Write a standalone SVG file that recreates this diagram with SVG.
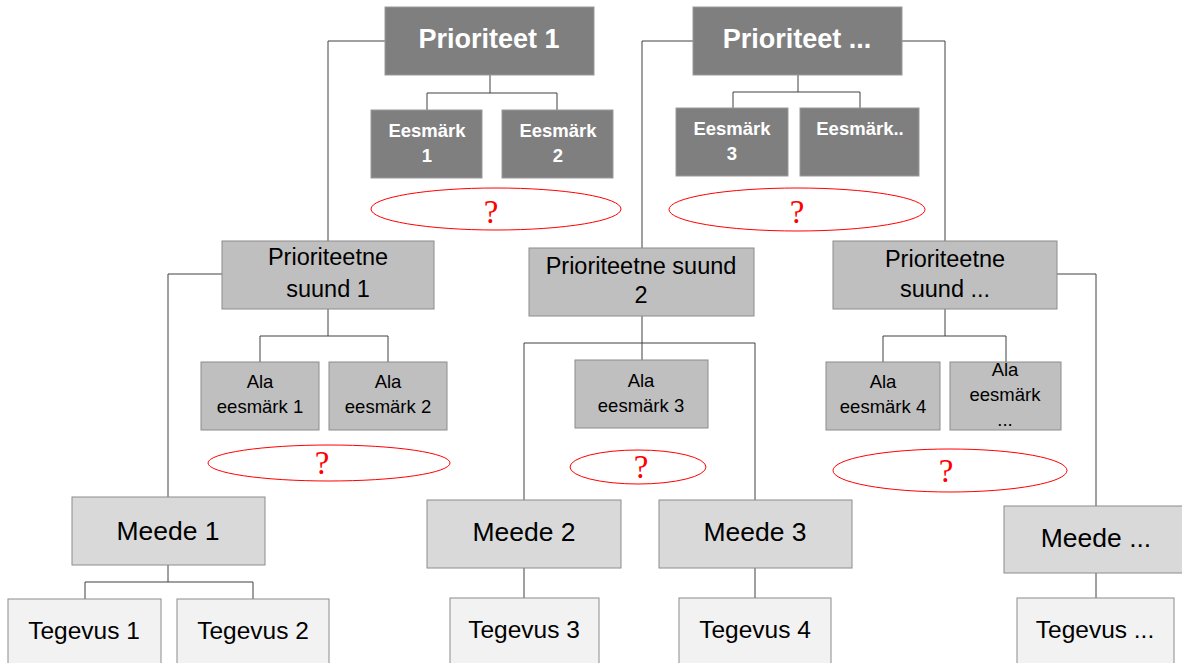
<svg xmlns="http://www.w3.org/2000/svg" width="1182" height="663" viewBox="0 0 1182 663">
<style>
text{font-family:"Liberation Sans",Arial,sans-serif;text-anchor:middle}
.p{fill:#7f7f7f;stroke:#9a9a9a;stroke-width:1}
.s{fill:#bfbfbf;stroke:#8c8c8c;stroke-width:1}
.m{fill:#d9d9d9;stroke:#8c8c8c;stroke-width:1}
.t{fill:#f2f2f2;stroke:#8c8c8c;stroke-width:1}
.wt{fill:#ffffff;font-weight:bold}
.bt{fill:#000000}
.q{fill:none;stroke:#ff0000;stroke-width:1}
.qt{fill:#ff0000;font-family:"Liberation Serif","Times New Roman",serif;font-size:33px}
#connectors path{fill:none;stroke:#404040;stroke-width:1}
</style>
<rect width="1182" height="663" fill="#ffffff"/>
<g id="connectors">
<path d="M385,41 H328 V241"/>
<path d="M490,75 V93 M427,110 V93 H557 V110"/>
<path d="M693,41 H642 V248"/>
<path d="M902,41 H945 V241"/>
<path d="M798,75 V92 M733,108 V92 H860 V108"/>
<path d="M222,274 H168 V497"/>
<path d="M328,309 V336 M260,362 V336 H388 V362"/>
<path d="M642,316 V360 M524,500 V343 H755 V500"/>
<path d="M945,309 V336 M883,362 V336 H1006 V362"/>
<path d="M1057,274 H1096 V506"/>
<path d="M168,565 V582 M85,599 V582 H253 V599"/>
<path d="M524,568 V598"/>
<path d="M755,568 V598"/>
<path d="M1096,573 V598"/>
</g>
<g id="prioriteet1"><rect class="p" x="385" y="7" width="209" height="68"/><text class="wt" x="489" y="48" font-size="27">Prioriteet 1</text></g>
<g id="prioriteetN"><rect class="p" x="693" y="7" width="209" height="68"/><text class="wt" x="797" y="48" font-size="27">Prioriteet ...</text></g>
<g id="eesmark1"><rect class="p" x="371" y="110" width="111" height="68"/><text class="wt" x="427" y="137" font-size="18.5">Eesmärk</text><text class="wt" x="427" y="162" font-size="18.5">1</text></g>
<g id="eesmark2"><rect class="p" x="502" y="110" width="111" height="68"/><text class="wt" x="558" y="137" font-size="18.5">Eesmärk</text><text class="wt" x="558" y="162" font-size="18.5">2</text></g>
<g id="eesmark3"><rect class="p" x="676" y="108" width="112" height="68"/><text class="wt" x="732" y="135" font-size="18.5">Eesmärk</text><text class="wt" x="732" y="160" font-size="18.5">3</text></g>
<g id="eesmarkN"><rect class="p" x="800" y="108" width="119" height="68"/><text class="wt" x="860" y="135" font-size="18.5">Eesmärk..</text></g>
<g id="q1"><ellipse class="q" cx="496" cy="209" rx="125" ry="21"/><text class="qt" x="491" y="223">?</text></g>
<g id="q2"><ellipse class="q" cx="797" cy="209.5" rx="128" ry="21.5"/><text class="qt" x="797" y="223">?</text></g>
<g id="suund1"><rect class="s" x="222" y="241" width="212" height="68"/><text class="bt" x="328" y="265" font-size="23.5">Prioriteetne</text><text class="bt" x="328" y="297" font-size="23.5">suund 1</text></g>
<g id="suund2"><rect class="s" x="529" y="248" width="225" height="68"/><text class="bt" x="641" y="274" font-size="23.5">Prioriteetne suund</text><text class="bt" x="641" y="303" font-size="23.5">2</text></g>
<g id="suundN"><rect class="s" x="833" y="241" width="224" height="68"/><text class="bt" x="945" y="267" font-size="23.5">Prioriteetne</text><text class="bt" x="945" y="297" font-size="23.5">suund ...</text></g>
<g id="ala1"><rect class="s" x="201" y="362" width="118" height="68"/><text class="bt" x="260" y="388" font-size="18.5">Ala</text><text class="bt" x="260" y="413" font-size="18.5">eesmärk 1</text></g>
<g id="ala2"><rect class="s" x="329" y="362" width="118" height="68"/><text class="bt" x="388" y="388" font-size="18.5">Ala</text><text class="bt" x="388" y="413" font-size="18.5">eesmärk 2</text></g>
<g id="ala3"><rect class="s" x="575" y="360" width="133" height="68"/><text class="bt" x="641" y="387" font-size="18.5">Ala</text><text class="bt" x="641" y="412" font-size="18.5">eesmärk 3</text></g>
<g id="ala4"><rect class="s" x="826" y="362" width="114" height="68"/><text class="bt" x="883" y="388" font-size="18.5">Ala</text><text class="bt" x="883" y="413" font-size="18.5">eesmärk 4</text></g>
<g id="alaN"><rect class="s" x="950" y="362" width="111" height="68"/><text class="bt" x="1005" y="376" font-size="18.5">Ala</text><text class="bt" x="1005" y="401" font-size="18.5">eesmärk</text><text class="bt" x="1005" y="426" font-size="18.5">...</text></g>
<g id="q3"><ellipse class="q" cx="329" cy="463" rx="121" ry="18"/><text class="qt" x="322" y="474">?</text></g>
<g id="q4"><ellipse class="q" cx="638" cy="467" rx="68" ry="17"/><text class="qt" x="641" y="478">?</text></g>
<g id="q5"><ellipse class="q" cx="950" cy="470.5" rx="117" ry="21.5"/><text class="qt" x="946" y="482">?</text></g>
<g id="meede1"><rect class="m" x="72" y="497" width="193" height="68"/><text class="bt" x="168" y="540" font-size="26.5">Meede 1</text></g>
<g id="meede2"><rect class="m" x="427" y="500" width="194" height="68"/><text class="bt" x="524" y="541" font-size="26.5">Meede 2</text></g>
<g id="meede3"><rect class="m" x="659" y="500" width="193" height="68"/><text class="bt" x="755" y="541" font-size="26.5">Meede 3</text></g>
<g id="meedeN"><rect class="m" x="1004" y="506" width="184" height="67"/><text class="bt" x="1096" y="547" font-size="26.5">Meede ...</text></g>
<g id="tegevus1"><rect class="t" x="8" y="599" width="153" height="72"/><text class="bt" x="84" y="639" font-size="24.5">Tegevus 1</text></g>
<g id="tegevus2"><rect class="t" x="177" y="599" width="152" height="72"/><text class="bt" x="253" y="639" font-size="24.5">Tegevus 2</text></g>
<g id="tegevus3"><rect class="t" x="450" y="598" width="149" height="72"/><text class="bt" x="524" y="638" font-size="24.5">Tegevus 3</text></g>
<g id="tegevus4"><rect class="t" x="679" y="598" width="152" height="72"/><text class="bt" x="755" y="638" font-size="24.5">Tegevus 4</text></g>
<g id="tegevusN"><rect class="t" x="1017" y="598" width="157" height="72"/><text class="bt" x="1095" y="638" font-size="24.5">Tegevus ...</text></g>
</svg>
